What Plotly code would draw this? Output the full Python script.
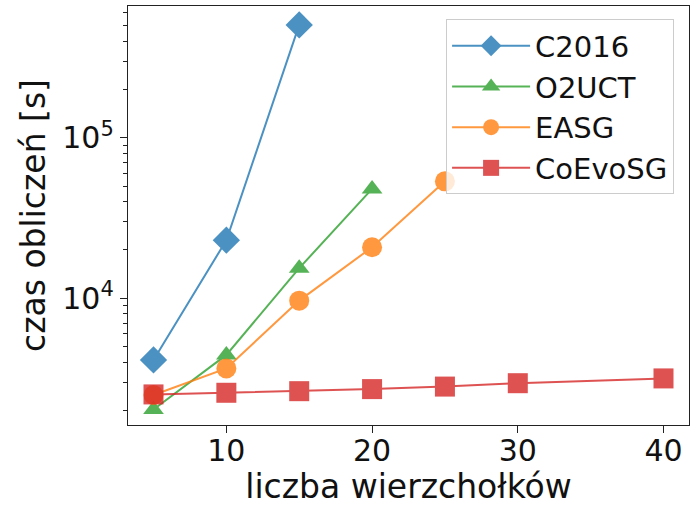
import plotly.graph_objects as go

# Data
names = ["C2016", "O2UCT", "EASG", "CoEvoSG"]
c2016_x = [5, 10, 15]
c2016_y = [4130, 23000, 504000]
o2uct_x = [5, 10, 15, 20]
o2uct_y = [2030, 4440, 15400, 48000]
easg_x = [5, 10, 15, 20, 25]
easg_y = [2500, 3660, 9670, 20800, 53500]
coevo_x = [5, 10, 15, 20, 25, 30, 40]
coevo_y = [2520, 2580, 2640, 2720, 2820, 2960, 3170]

x_ticks = [10, 20, 30, 40]
y_ticks = [1e4, 1e5]
y_ticktext = ["10<sup>4</sup>", "10<sup>5</sup>"]
y_minor = [2000, 3000, 4000, 5000, 6000, 7000, 8000, 9000,
           20000, 30000, 40000, 50000, 60000, 70000, 80000, 90000,
           200000, 300000, 400000, 500000, 600000]

colors = ["#1f77b4", "#2ca02c", "#ff7f0e", "#d62728"]
symbols = ["diamond", "triangle-up", "circle", "square"]
sizes = [21, 18, 20, 20]
series = [(c2016_x, c2016_y), (o2uct_x, o2uct_y), (easg_x, easg_y), (coevo_x, coevo_y)]

fig = go.Figure()
for i, (xs, ys) in enumerate(series):
    fig.add_trace(go.Scatter(
        x=xs, y=ys, name=names[i], mode="lines+markers",
        legendgroup=names[i],
        line=dict(color=colors[i], width=2),
        marker=dict(symbol=symbols[i], size=sizes[i], color=colors[i], line=dict(width=0)),
        opacity=0.8,
    ))

axis_common = dict(
    showline=True, linecolor="#222", linewidth=1.3, mirror=True,
    ticks="outside", ticklen=7, tickwidth=1.2, tickcolor="#222",
    showgrid=False, zeroline=False,
    tickfont=dict(family="DejaVu Sans", size=30, color="#111"),
)

fig.update_xaxes(
    range=[3.25, 41.75], tickvals=x_ticks, ticklabelstandoff=-8,
    title=dict(text="liczba wierzchołków", font=dict(family="DejaVu Sans", size=33, color="#111"), standoff=0),
    **axis_common,
)
fig.update_yaxes(
    type="log", range=[3.211, 5.82], tickvals=y_ticks, ticktext=y_ticktext,
    title=dict(text="czas obliczeń [s]", font=dict(family="DejaVu Sans", size=33, color="#111"), standoff=6),
    minor=dict(tickvals=y_minor, ticks="outside", ticklen=4, tickwidth=1, tickcolor="#222"),
    **axis_common,
)

fig.update_layout(
    width=692, height=506,
    margin=dict(l=128, r=3, t=6, b=81),
    plot_bgcolor="white", paper_bgcolor="white",
    font=dict(family="DejaVu Sans"),
    legend=dict(
        x=0.567, y=0.968, xanchor="left", yanchor="top",
        font=dict(family="DejaVu Sans", size=29, color="#111"),
        bgcolor="rgba(255,255,255,0.8)", bordercolor="#ccc", borderwidth=1,
        traceorder="grouped", tracegroupgap=0, itemwidth=78,
    ),
)

fig.write_html("out.html")
